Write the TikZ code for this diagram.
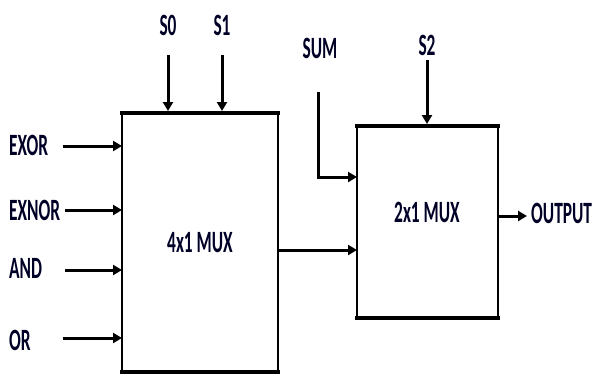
\documentclass[tikz,border=0pt]{standalone}
\usepackage{fontspec}
\setmainfont{Carlito}
\usetikzlibrary{arrows.meta}
\newcommand{\lbl}[1]{\scalebox{0.56}[1]{\fontsize{31}{33}\selectfont\bfseries #1}}
\begin{document}
\begin{tikzpicture}[x=1pt,y=-1pt,
  wire/.style={line width=3pt},
  arr/.style={wire,-{Triangle[length=9pt,width=10pt]}},
  txt/.style={inner sep=0pt,text=black!85!blue},
  boxedge/.style={line width=2.5pt},
  thickedge/.style={line width=4.5pt}]
\useasboundingbox (0,0) rectangle (599,376);
% 4x1 MUX box
\node[txt] (mux4) at (200,243) {\lbl{4x1 MUX}};
\draw[boxedge] (122,113) -- (122,372) (278,113) -- (278,372);
\draw[thickedge] (120,113) -- (280,113) (120,372) -- (280,372);
% 2x1 MUX box
\node[txt] (mux2) at (427,212) {\lbl{2x1 MUX}};
\draw[boxedge] (357,126) -- (357,318) (498,126) -- (498,318);
\draw[thickedge] (355,126) -- (500,126) (355,318) -- (500,318);
% labels
\node[txt] (s0) at (168,25) {\lbl{S0}};
\node[txt] (s1) at (222,25) {\lbl{S1}};
\node[txt] (s2) at (427,45) {\lbl{S2}};
\node[txt] (sum) at (320,48) {\lbl{SUM}};
\node[txt,anchor=west] (exor) at (9,145) {\lbl{EXOR}};
\node[txt,anchor=west] (exnor) at (9,210) {\lbl{EXNOR}};
\node[txt,anchor=west] (and) at (9,268) {\lbl{AND}};
\node[txt,anchor=west] (or) at (9,340) {\lbl{OR}};
\node[txt,anchor=west] (out) at (531,213) {\lbl{OUTPUT}};
% coordinates for connector ends
\coordinate (s0a) at (168,55); \coordinate (s0b) at (168,111);
\coordinate (s1a) at (222,55); \coordinate (s1b) at (222,111);
\coordinate (s2a) at (427,60); \coordinate (s2b) at (427,124);
\coordinate (i1a) at (63,146); \coordinate (i1b) at (122,146);
\coordinate (i2a) at (65,210); \coordinate (i2b) at (122,210);
\coordinate (i3a) at (65,270); \coordinate (i3b) at (122,270);
\coordinate (i4a) at (63,338); \coordinate (i4b) at (122,338);
\coordinate (suma) at (318,92); \coordinate (sumb) at (357,177);
\coordinate (m4o) at (278,250); \coordinate (m2i) at (357,250);
\coordinate (m2o) at (498,216); \coordinate (outi) at (527,216);
% connectors
\draw[arr] (s0a) -- (s0b);
\draw[arr] (s1a) -- (s1b);
\draw[arr] (s2a) -- (s2b);
\draw[arr] (i1a) -- (i1b);
\draw[arr] (i2a) -- (i2b);
\draw[arr] (i3a) -- (i3b);
\draw[arr] (i4a) -- (i4b);
\draw[arr] (suma) |- (sumb);
\draw[arr] (m4o) -- (m2i);
\draw[arr] (m2o) -- (outi);
\end{tikzpicture}
\end{document}
